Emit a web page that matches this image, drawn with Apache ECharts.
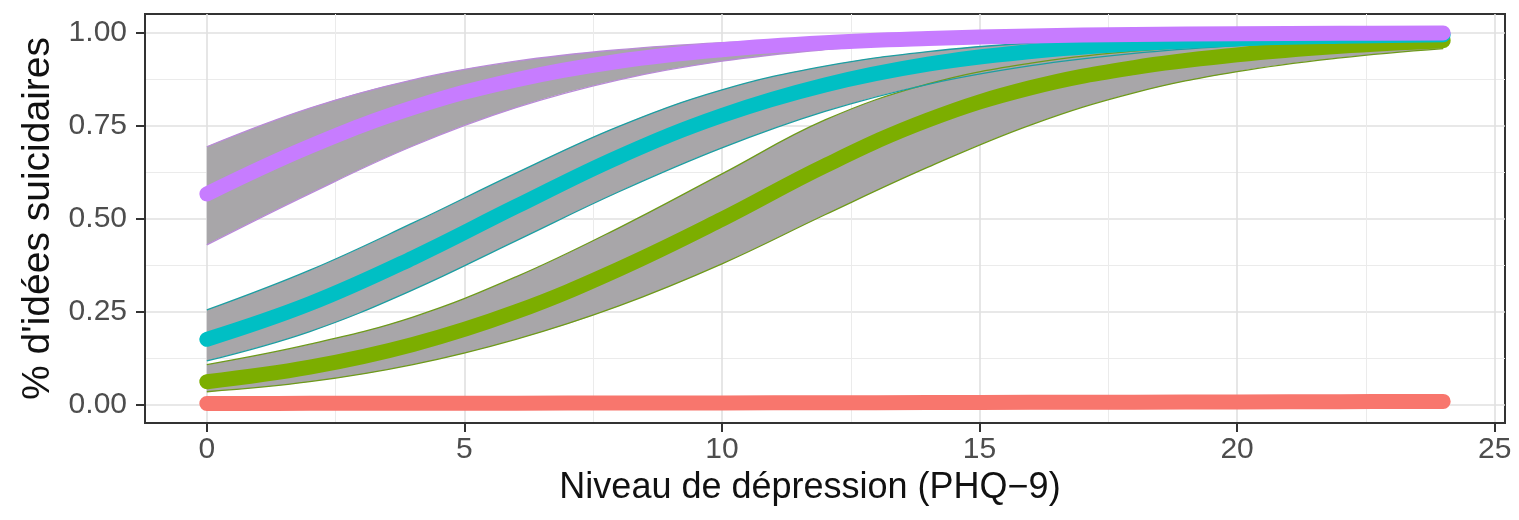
<!DOCTYPE html>
<html>
<head>
<meta charset="utf-8">
<script src="https://cdn.jsdelivr.net/npm/echarts@6/dist/echarts.min.js"></script>
<style>
html,body{margin:0;padding:0;background:#fff;}
#chart{width:1519px;height:520px;}
</style>
</head>
<body>
<div id="chart"></div>
<script>
// PHQ-9 levels
const xs = [0, 2, 4, 6, 8, 10, 12, 14, 16, 18, 20, 22, 24];
const xTicks = [0, 5, 10, 15, 20, 25];
const xMinor = [2.5, 7.5, 12.5, 17.5, 22.5];
const yTicks = [0, 0.25, 0.5, 0.75, 1.0];
const yMinor = [0.125, 0.375, 0.625, 0.875];

// red group
const redFit  = [0.0025, 0.0028, 0.0031, 0.0034, 0.0037, 0.0041, 0.0045, 0.0050, 0.0055, 0.0060, 0.0066, 0.0073, 0.0080];
const redLow  = [0.0010, 0.0012, 0.0014, 0.0016, 0.0018, 0.0021, 0.0024, 0.0027, 0.0030, 0.0033, 0.0036, 0.0040, 0.0044];
const redHigh = [0.0045, 0.0048, 0.0051, 0.0054, 0.0058, 0.0062, 0.0067, 0.0073, 0.0080, 0.0088, 0.0097, 0.0108, 0.0120];
// green group
const greenFit  = [0.061, 0.100, 0.161, 0.249, 0.364, 0.498, 0.642, 0.765, 0.852, 0.906, 0.940, 0.963, 0.978];
const greenLow  = [0.034, 0.061, 0.107, 0.175, 0.265, 0.378, 0.510, 0.638, 0.752, 0.838, 0.895, 0.932, 0.957];
const greenHigh = [0.107, 0.162, 0.235, 0.343, 0.475, 0.620, 0.765, 0.862, 0.918, 0.950, 0.968, 0.981, 0.989];
// cyan group
const cyanFit  = [0.175, 0.271, 0.394, 0.532, 0.666, 0.777, 0.859, 0.915, 0.949, 0.970, 0.983, 0.990, 0.994];
const cyanLow  = [0.117, 0.196, 0.308, 0.440, 0.572, 0.690, 0.788, 0.861, 0.911, 0.944, 0.965, 0.979, 0.987];
const cyanHigh = [0.254, 0.361, 0.488, 0.622, 0.748, 0.846, 0.910, 0.949, 0.972, 0.984, 0.992, 0.995, 0.998];
// purple group
const purpleFit  = [0.566, 0.694, 0.798, 0.873, 0.923, 0.954, 0.973, 0.984, 0.991, 0.995, 0.997, 0.998, 0.999];
const purpleLow  = [0.429, 0.567, 0.695, 0.798, 0.873, 0.923, 0.954, 0.973, 0.984, 0.991, 0.995, 0.997, 0.998];
const purpleHigh = [0.693, 0.797, 0.873, 0.923, 0.954, 0.973, 0.984, 0.991, 0.995, 0.997, 0.998, 0.999, 0.9994];

const groups = [
  {name: 'rouge',  fit: redFit,    low: redLow,    high: redHigh,    color: '#F8766D', edge: '#F8766D'},
  {name: 'vert',   fit: greenFit,  low: greenLow,  high: greenHigh,  color: '#7CAE00', edge: '#6E9A1A'},
  {name: 'cyan',   fit: cyanFit,   low: cyanLow,   high: cyanHigh,   color: '#00BFC4', edge: '#1C9EA2'},
  {name: 'violet', fit: purpleFit, low: purpleLow, high: purpleHigh, color: '#C77CFF', edge: '#B98AD8'}
];

const ribbonGrey = '#A8A6A9';
const series = [];
// ribbons: data stored as [y, x] so that the stacked dimension is y (stacked by index)
groups.forEach(g => {
  series.push({
    type: 'line', name: g.name + '-low', stack: 'band-' + g.name,
    encode: {x: 1, y: 0},
    data: xs.map((x, i) => [g.low[i], x]),
    smooth: 0.4, symbol: 'none', silent: true,
    lineStyle: {color: g.edge, width: 1.3}, z: 2
  });
  series.push({
    type: 'line', name: g.name + '-band', stack: 'band-' + g.name,
    encode: {x: 1, y: 0},
    data: xs.map((x, i) => [g.high[i] - g.low[i], x]),
    smooth: 0.4, symbol: 'none', silent: true,
    lineStyle: {color: g.edge, width: 1.3},
    areaStyle: {color: ribbonGrey, opacity: 1}, z: 2
  });
});
groups.forEach(g => {
  series.push({
    type: 'line', name: g.name,
    data: xs.map((x, i) => [x, g.fit[i]]),
    smooth: 0.4, symbol: 'none', silent: true,
    lineStyle: {color: g.color, width: 15, cap: 'round', join: 'round'}, z: 3
  });
});

const chart = echarts.init(document.getElementById('chart'), null, {renderer: 'canvas'});
const gridLine = {show: true, lineStyle: {color: '#E0E0E0', width: 1.6}};
const gridMinor = {show: true, lineStyle: {color: '#EBEBEB', width: 1}};
chart.setOption({
  animation: false,
  backgroundColor: '#fff',
  grid: {left: 145, right: 14, top: 14, bottom: 97, show: true, borderColor: '#333', borderWidth: 2, backgroundColor: 'transparent'},
  xAxis: [
    {
      type: 'value', min: -1.2, max: 25.2,
      name: 'Niveau de dépression (PHQ−9)', nameLocation: 'middle', nameGap: 44,
      nameTextStyle: {fontFamily: 'Liberation Sans', fontSize: 36, color: '#111', padding: [0, 30, 0, 0]},
      axisLine: {show: true, onZero: false, lineStyle: {color: '#333', width: 2}},
      axisTick: {show: true, length: 9, customValues: xTicks, lineStyle: {color: '#333', width: 2}},
      axisLabel: {show: true, customValues: xTicks, margin: 12, fontFamily: 'Liberation Sans', fontSize: 30, color: '#4D4D4D'},
      splitLine: gridLine
    },
    {
      type: 'value', min: -1.2, max: 25.2, position: 'bottom',
      axisLine: {show: false}, axisLabel: {show: false, customValues: xMinor},
      axisTick: {show: false, length: 0, customValues: xMinor},
      splitLine: gridMinor
    }
  ],
  yAxis: [
    {
      type: 'value', min: -0.05, max: 1.05,
      name: '% d\'idées suicidaires', nameLocation: 'middle', nameGap: 86, nameRotate: 90,
      nameTextStyle: {fontFamily: 'Liberation Sans', fontSize: 39, color: '#111'},
      axisLine: {show: true, onZero: false, lineStyle: {color: '#333', width: 2}},
      axisTick: {show: true, length: 9, customValues: yTicks, lineStyle: {color: '#333', width: 2}},
      axisLabel: {show: true, customValues: yTicks, margin: 18, fontFamily: 'Liberation Sans', fontSize: 30, color: '#4D4D4D',
        formatter: v => Number(v).toFixed(2)},
      splitLine: gridLine
    },
    {
      type: 'value', min: -0.05, max: 1.05, position: 'left',
      axisLine: {show: false}, axisLabel: {show: false, customValues: yMinor},
      axisTick: {show: false, length: 0, customValues: yMinor},
      splitLine: gridMinor
    }
  ],
  series: series
});
</script>
</body>
</html>
